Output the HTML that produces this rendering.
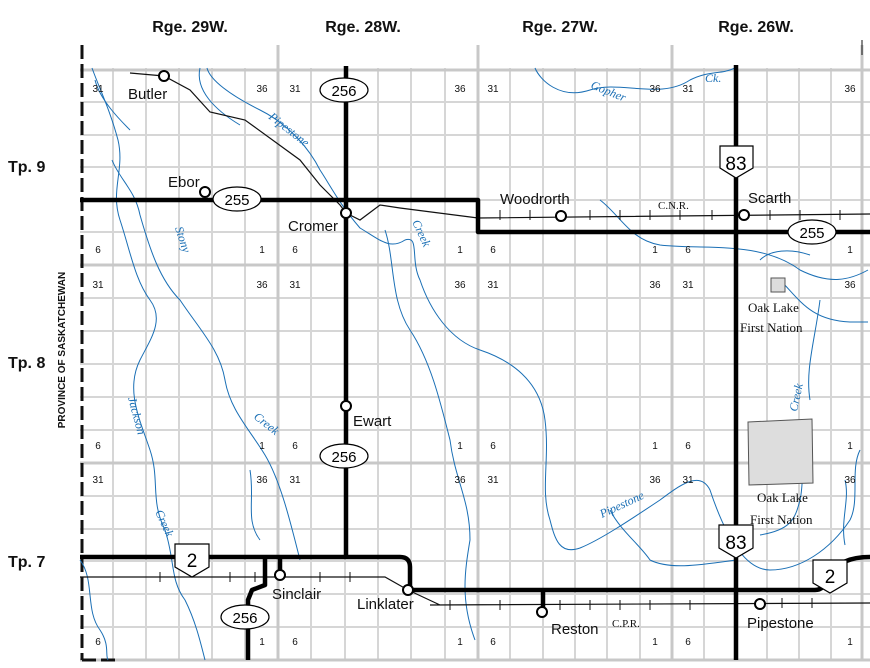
<!DOCTYPE html>
<html><head><style>
body{margin:0;background:#fff}
svg{display:block;font-family:"Liberation Sans",sans-serif}
.n{font-size:10px;fill:#111}
.pl{font-size:15px;fill:#111}
.rv{font-size:12px;fill:#1a6fb5;font-style:italic;font-family:"Liberation Serif",serif}
.hd{font-size:16px;font-weight:bold;fill:#111}
.sr{font-family:"Liberation Serif",serif;font-size:13px;fill:#111}
</style></head><body>
<svg width="870" height="668" viewBox="0 0 870 668" xmlns="http://www.w3.org/2000/svg">
<rect width="870" height="668" fill="#fff"/>
<!-- grid -->
<g stroke="#d6d6d6" stroke-width="2" fill="none">
<path d="M113 68V660M146 68V660M179 68V660M212 68V660M245 68V660M311 68V660M345 68V660M378 68V660M411 68V660M445 68V660M510 68V660M543 68V660M575 68V660M607 68V660M640 68V660M704 68V660M736 68V660M767 68V660M799 68V660M831 68V660"/>
<path d="M80 102H870M80 135H870M80 167H870M80 200H870M80 232H870M80 298H870M80 331H870M80 364H870M80 397H870M80 430H870M80 496H870M80 529H870M80 561H870M80 594H870M80 627H870"/>
</g>
<g stroke="#c8c8c8" stroke-width="3" fill="none">
<path d="M278 45V660M478 45V660M672 45V660M862 45V660M80 70H870M80 265H870M80 463H870M80 660H870"/>
</g>
<!-- left dashed border -->
<path d="M82 45V660" stroke="#111" stroke-width="3" stroke-dasharray="14,5"/>
<path d="M82 660H118" stroke="#111" stroke-width="3" stroke-dasharray="14,5"/>
<!-- rivers -->
<g stroke="#1a6fb5" stroke-width="1" fill="none">
<path d="M92 68 C100 90 110 110 118 140 C125 170 110 190 120 220 C130 250 135 280 150 300 C165 320 150 340 140 360 C125 390 140 420 150 450 C160 480 150 500 165 530 C175 560 170 580 185 600 C195 620 200 640 205 660"/>
<path d="M95 80 C100 100 120 120 130 130"/>
<path x="0" d="M112 160 C120 180 135 190 140 215 C150 250 160 280 180 300 C200 330 220 350 225 380 C230 410 250 430 265 455 C280 480 290 520 300 560"/>
<path d="M200 68 C195 90 215 110 240 125"/>
<path d="M207 68 C210 80 230 95 260 110 C290 125 310 150 320 170 C330 185 340 205 360 228 C380 240 390 250 405 240 C420 235 410 260 420 280 C430 310 450 340 480 350 C510 360 540 380 545 420 C550 460 540 490 550 520 C555 540 560 555 580 548 C600 540 630 520 660 500 C680 485 700 470 710 490 C720 520 740 570 770 570 C800 570 830 550 850 520 C860 500 850 470 860 450"/>
<path d="M385 230 C395 260 390 300 410 330 C430 360 440 400 450 440 C455 480 470 500 470 540 C465 570 460 600 475 640"/>
<path d="M535 68 C540 80 560 100 590 90 C620 80 660 100 690 80 C710 70 720 75 735 68"/>
<path d="M600 200 C620 215 630 240 660 245 C700 250 760 240 800 270 C830 285 850 280 868 270"/>
<path d="M780 280 C800 300 810 320 850 322 L868 322"/>
<path d="M810 420 C800 440 805 480 800 500 C795 520 790 530 760 535"/>
<path d="M820 300 C815 340 805 370 810 400"/>
<path d="M845 480 C850 500 840 520 845 545"/>
<path d="M80 560 C95 580 85 610 100 630 C110 645 105 655 108 660"/>
<path d="M250 470 C255 500 245 520 260 540"/>
<path d="M760 260 C770 250 790 248 810 255"/>
<path d="M610 510 C620 530 640 545 650 560 C670 570 700 565 736 560"/>
</g>
<!-- Oak Lake reserves -->
<rect x="771" y="278" width="14" height="14" fill="#ddd" stroke="#555" stroke-width="1"/>
<path d="M748 422 L812 419 L813 483 L749 485 Z" fill="#ddd" stroke="#555" stroke-width="1"/>
<!-- railways -->
<g stroke="#111" stroke-width="1.2" fill="none">
<path d="M130 73 L164 76 L190 90 L210 112 L245 120 L300 160 L320 185 L340 205 L346 213 M346 213 L360 220 L380 205 L400 208 L478 218 L870 214"/>
<path d="M80 577 L385 577 L408 590 L440 605 M430 605 L870 603"/>
</g>
<g stroke="#111" stroke-width="1">
<path d="M500 210V220M530 210V220M590 210V220M620 210V220M650 210V220M680 210V220M712 210V220M770 210V220M800 210V220M840 210V220"/>
<path d="M160 572V582M230 572V582M255 572V582M320 572V582M350 572V582M450 600V610M500 600V610M560 600V610M590 600V610M620 600V610M650 600V610M690 600V610M782 598V608M812 598V608"/>
</g>
<!-- highways -->
<g stroke="#000" stroke-width="4.5" fill="none" stroke-linejoin="round">
<path d="M80 200 L478 200 L478 232 L870 232"/>
<path d="M346 66 V557"/>
<path d="M736 65 V660"/>
<path d="M80 557 L400 557 Q410 557 410 567 L410 590 L815 590 Q825 590 830 575 Q840 557 870 557"/>
<path d="M265 557 V585 L252 590 L248 600 V660"/>
<path d="M543 590 V612"/>
<path d="M280 557 V572"/>
</g>
<!-- town circles -->
<g fill="#fff" stroke="#000" stroke-width="2">
<circle cx="164" cy="76" r="5"/><circle cx="205" cy="192" r="5"/><circle cx="346" cy="213" r="5"/>
<circle cx="561" cy="216" r="5"/><circle cx="744" cy="215" r="5"/><circle cx="346" cy="406" r="5"/>
<circle cx="280" cy="575" r="5"/><circle cx="408" cy="590" r="5"/><circle cx="542" cy="612" r="5"/><circle cx="760" cy="604" r="5"/>
</g>
<!-- shields -->
<g fill="#fff" stroke="#000" stroke-width="1.2">
<ellipse cx="344" cy="90" rx="24" ry="12"/><ellipse cx="237" cy="199" rx="24" ry="12"/>
<ellipse cx="812" cy="232" rx="24" ry="12"/><ellipse cx="344" cy="456" rx="24" ry="12"/>
<ellipse cx="245" cy="617" rx="24" ry="12"/>
<path d="M720 146H753V168L736 178L720 168Z"/>
<path d="M719 525H753V548L736 558L719 548Z"/>
<path d="M175 544H209V567L192 577L175 567Z"/>
<path d="M813 560H847V583L830 593L813 583Z"/>
</g>
<g font-size="15" text-anchor="middle" fill="#000">
<text x="344" y="96">256</text><text x="237" y="205">255</text><text x="812" y="238">255</text>
<text x="344" y="462">256</text><text x="245" y="623">256</text>
<text x="736" y="170" font-size="19">83</text><text x="736" y="549" font-size="19">83</text>
<text x="192" y="567" font-size="19">2</text><text x="830" y="583" font-size="19">2</text>
</g>
<!-- headers -->
<text class="hd" x="190" y="32" text-anchor="middle">Rge. 29W.</text>
<text class="hd" x="363" y="32" text-anchor="middle">Rge. 28W.</text>
<text class="hd" x="560" y="32" text-anchor="middle">Rge. 27W.</text>
<text class="hd" x="756" y="32" text-anchor="middle">Rge. 26W.</text>
<text class="hd" x="8" y="172">Tp. 9</text>
<text class="hd" x="8" y="368">Tp. 8</text>
<text class="hd" x="8" y="567">Tp. 7</text>
<text transform="translate(65,350) rotate(-90)" text-anchor="middle" font-size="10" font-weight="bold" fill="#111">PROVINCE  OF  SASKATCHEWAN</text>
<!-- section numbers -->
<g class="n" text-anchor="middle">
<text x="98" y="92">31</text><text x="262" y="92">36</text><text x="295" y="92">31</text><text x="460" y="92">36</text><text x="493" y="92">31</text><text x="655" y="92">36</text><text x="688" y="92">31</text><text x="850" y="92">36</text>
<text x="98" y="253">6</text><text x="262" y="253">1</text><text x="295" y="253">6</text><text x="460" y="253">1</text><text x="493" y="253">6</text><text x="655" y="253">1</text><text x="688" y="253">6</text><text x="850" y="253">1</text>
<text x="98" y="288">31</text><text x="262" y="288">36</text><text x="295" y="288">31</text><text x="460" y="288">36</text><text x="493" y="288">31</text><text x="655" y="288">36</text><text x="688" y="288">31</text><text x="850" y="288">36</text>
<text x="98" y="449">6</text><text x="262" y="449">1</text><text x="295" y="449">6</text><text x="460" y="449">1</text><text x="493" y="449">6</text><text x="655" y="449">1</text><text x="688" y="449">6</text><text x="850" y="449">1</text>
<text x="98" y="483">31</text><text x="262" y="483">36</text><text x="295" y="483">31</text><text x="460" y="483">36</text><text x="493" y="483">31</text><text x="655" y="483">36</text><text x="688" y="483">31</text><text x="850" y="483">36</text>
<text x="98" y="645">6</text><text x="262" y="645">1</text><text x="295" y="645">6</text><text x="460" y="645">1</text><text x="493" y="645">6</text><text x="655" y="645">1</text><text x="688" y="645">6</text><text x="850" y="645">1</text>
</g>
<!-- places -->
<g class="pl">
<text x="128" y="99">Butler</text><text x="168" y="187">Ebor</text><text x="288" y="231">Cromer</text>
<text x="500" y="204">Woodrorth</text><text x="748" y="203">Scarth</text><text x="353" y="426">Ewart</text>
<text x="272" y="599">Sinclair</text><text x="357" y="609">Linklater</text><text x="551" y="634">Reston</text><text x="747" y="628">Pipestone</text>
</g>
<g class="sr">
<text x="748" y="312">Oak Lake</text><text x="740" y="332">First Nation</text>
<text x="757" y="502">Oak Lake</text><text x="750" y="524">First Nation</text>
<text x="658" y="209" font-size="11">C.N.R.</text><text x="612" y="627" font-size="11">C.P.R.</text>
</g>
<!-- river labels -->
<g class="rv">
<text transform="translate(268,118) rotate(38)">Pipestone</text>
<text transform="translate(175,228) rotate(72)">Stony</text>
<text transform="translate(412,222) rotate(65)">Creek</text>
<text transform="translate(590,88) rotate(22)">Gopher</text>
<text x="705" y="82">Ck.</text>
<text transform="translate(128,398) rotate(75)">Jackson</text>
<text transform="translate(253,418) rotate(38)">Creek</text>
<text transform="translate(155,512) rotate(65)">Creek</text>
<text transform="translate(602,518) rotate(-25)">Pipestone</text>
<text transform="translate(797,412) rotate(-78)">Creek</text>
</g>
<path d="M862 40V55" stroke="#111" stroke-width="1"/>
</svg>
</body></html>
